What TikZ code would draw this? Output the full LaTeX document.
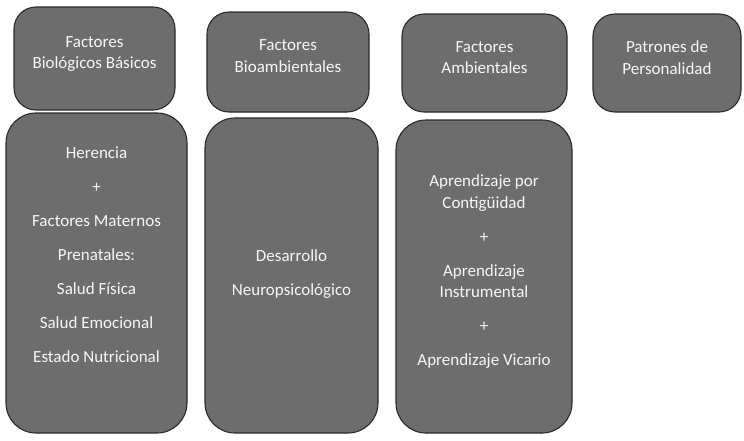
\documentclass[tikz,border=0pt]{standalone}
\usepackage{xcolor}
\usepackage{fontspec}
\setmainfont{Carlito}
\usepackage{tikz}
\definecolor{gris}{HTML}{6D6D6D}
\definecolor{borde}{HTML}{2A2A2A}
\begin{document}
\begin{tikzpicture}[x=1pt,y=-1pt,
    caja/.style={draw=borde,fill=gris,line width=1.1pt,rounded corners=22pt,inner sep=0pt},
    cajalarga/.style={caja,rounded corners=30pt},
    texto/.style={text=white!94!gray,align=center,inner sep=0pt,font=\fontsize{17pt}{21.5pt}\selectfont}]
\useasboundingbox (0,0) rectangle (744,440);
      \node[caja,minimum width=161pt,minimum height=103pt] (biol) at (94.5,58.5) {};
      \node[caja,minimum width=162pt,minimum height=100pt] (bioamb) at (288,62) {};
      \node[caja,minimum width=165pt,minimum height=98pt] (amb) at (484.5,63) {};
      \node[caja,minimum width=148pt,minimum height=98pt] (pers) at (667,63) {};
      \node[cajalarga,minimum width=181pt,minimum height=320pt] (her) at (96.5,273) {};
      \node[cajalarga,minimum width=173pt,minimum height=315pt] (neuro) at (291.5,275.5) {};
      \node[cajalarga,minimum width=176pt,minimum height=313pt] (apr) at (484,276.5) {};
      \node[texto] (biol-t) at (94.5,54) {Factores\\Biológicos Básicos};
      \node[texto] (bioamb-t) at (288,56) {Factores\\Bioambientales};
      \node[texto] (amb-t) at (484.5,57.5) {Factores\\Ambientales};
      \node[texto] (pers-t) at (667,57.5) {Patrones de\\Personalidad};
      \node[texto] (her-t) at (96.5,255) {Herencia\\[12.5pt] +\\[12.5pt] Factores Maternos\\[12.5pt] Prenatales:\\[12.5pt]
            Salud Física\\[12.5pt] Salud Emocional\\[12.5pt] Estado Nutricional};
      \node[texto] (neuro-t) at (291.5,274.5) {Desarrollo\\[12.5pt] Neuropsicológico};
      \node[texto] (apr-t) at (484,272) {Aprendizaje por\\Contigüidad\\[12.5pt] +\\[12.5pt] Aprendizaje\\Instrumental\\[12.5pt] +\\[12.5pt]
            Aprendizaje Vicario};
\end{tikzpicture}
\end{document}
